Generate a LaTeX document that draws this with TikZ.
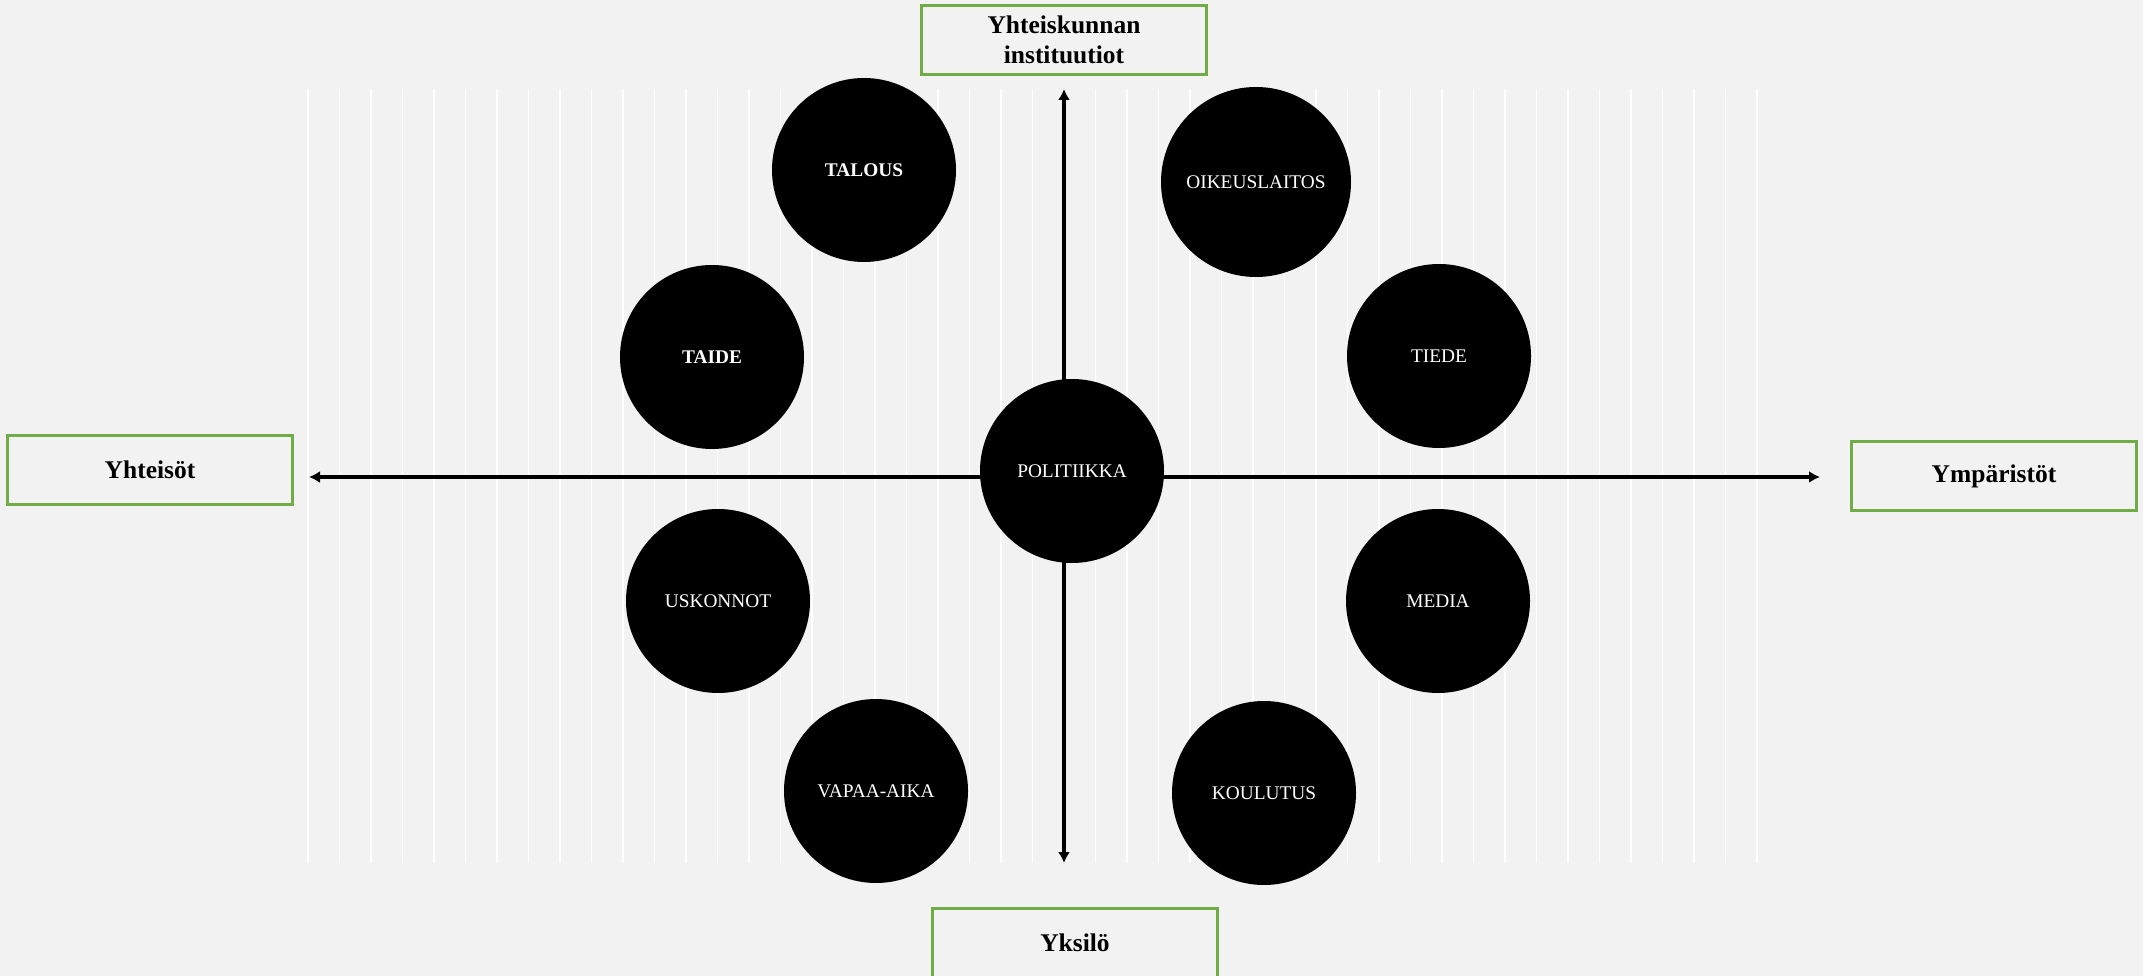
\documentclass[tikz,border=0pt]{standalone}
\usepackage{fontspec}
\setmainfont{Liberation Serif}
\usetikzlibrary{arrows.meta}
\definecolor{bgcol}{HTML}{F2F2F2}
\definecolor{boxgreen}{HTML}{70AD47}

\begin{document}
\begin{tikzpicture}[x=0.2mm,y=-0.2mm,
	ball/.style={circle, fill=black, text=white, minimum size=36.8mm, inner sep=0pt, font=\fontsize{11}{13}\selectfont},
	label/.style={draw=boxgreen, line width=1.7pt, fill=bgcol, minimum width=57mm, minimum height=13.8mm, align=center, font=\fontsize{14.5}{17}\selectfont\bfseries},
	axis/.style={line width=2.4pt, {Latex[length=2.2mm,width=2.4mm]}-{Latex[length=2.2mm,width=2.4mm]}}]
	\fill[bgcol] (0,0) rectangle (2143,976);
	\useasboundingbox (0,0) rectangle (2143,976);
	% white stripes
	\foreach \i in {0,...,46}
		\draw[white, line width=1.1pt] (308+31.5*\i,89) -- (308+31.5*\i,863);
	% axes
	\coordinate (up) at (1064,89);
	\coordinate (down) at (1064,863);
	\coordinate (left) at (309,477);
	\coordinate (right) at (1820,477);
	\draw[axis] (down) -- (up);
	\draw[axis] (left) -- (right);
	% circles
	\node[ball] (pol) at (1072,471) {POLITIIKKA};
	\node[ball] (tal) at (864,170) {\bfseries TALOUS};
	\node[ball, minimum size=38mm] (oik) at (1256,182) {OIKEUSLAITOS};
	\node[ball] (tai) at (712,357) {\bfseries TAIDE};
	\node[ball] (tie) at (1439,356) {TIEDE};
	\node[ball] (usk) at (718,601) {USKONNOT};
	\node[ball] (med) at (1438,601) {MEDIA};
	\node[ball] (vap) at (876,791) {VAPAA-AIKA};
	\node[ball] (kou) at (1264,793) {KOULUTUS};
	% labels
	\node[label] (inst) at (1064,40) {Yhteiskunnan\\instituutiot};
	\node[label] (yht) at (150,470) {Yhteisöt};
	\node[label] (ymp) at (1994,476) {Ympäristöt};
	\node[label] (yks) at (1075,943) {Yksilö};
\end{tikzpicture}
\end{document}
